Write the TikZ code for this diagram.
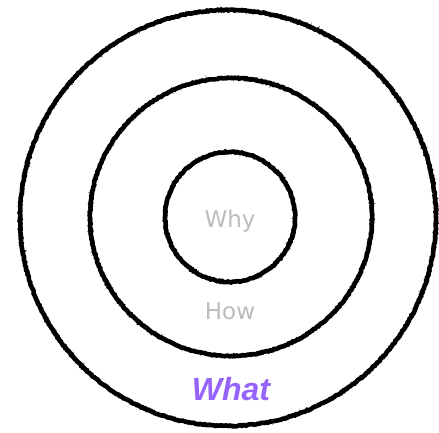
\documentclass[tikz,border=0pt]{standalone}
\usepackage{fontspec}
\setmainfont{Liberation Sans}
\newfontfamily\dejavu{DejaVu Sans}
\usetikzlibrary{decorations.pathmorphing}
\definecolor{whatcol}{RGB}{150,100,250}
\definecolor{softtext}{RGB}{188,188,188}
\begin{document}
\begin{tikzpicture}[x=1pt,y=1pt,
  ring/.style={draw=black, line width=4.6pt, decorate,
    decoration={random steps, segment length=1.5pt, amplitude=0.5pt}},
  ringfine/.style={draw=black, line width=0.7pt, decorate,
    decoration={random steps, segment length=0.8pt, amplitude=1.6pt}},
  softlabel/.style={inner sep=0pt, font=\dejavu\fontsize{23}{23}\selectfont, text=softtext},
  whatlabel/.style={inner sep=0pt, font=\fontsize{32}{32}\selectfont\bfseries\itshape, text=whatcol}
]
\useasboundingbox (0,0) rectangle (439,433);
\fill[white] (0,0) rectangle (439,433);
% rings
\path[ring] (228,215) circle[radius=208];
\path[ringfine] (228,215) circle[radius=208];
\path[ring] (231,216) ellipse[x radius=141, y radius=139];
\path[ringfine] (231,216) ellipse[x radius=141, y radius=139];
\path[ring] (230,216) circle[radius=65];
\path[ringfine] (230,216) circle[radius=65];
% labels
\node[softlabel] (why) at (230,212) {Why};
\node[softlabel] (how) at (230,122) {How};
\node[whatlabel] (what) at (231,44) {What};
\end{tikzpicture}
\end{document}
